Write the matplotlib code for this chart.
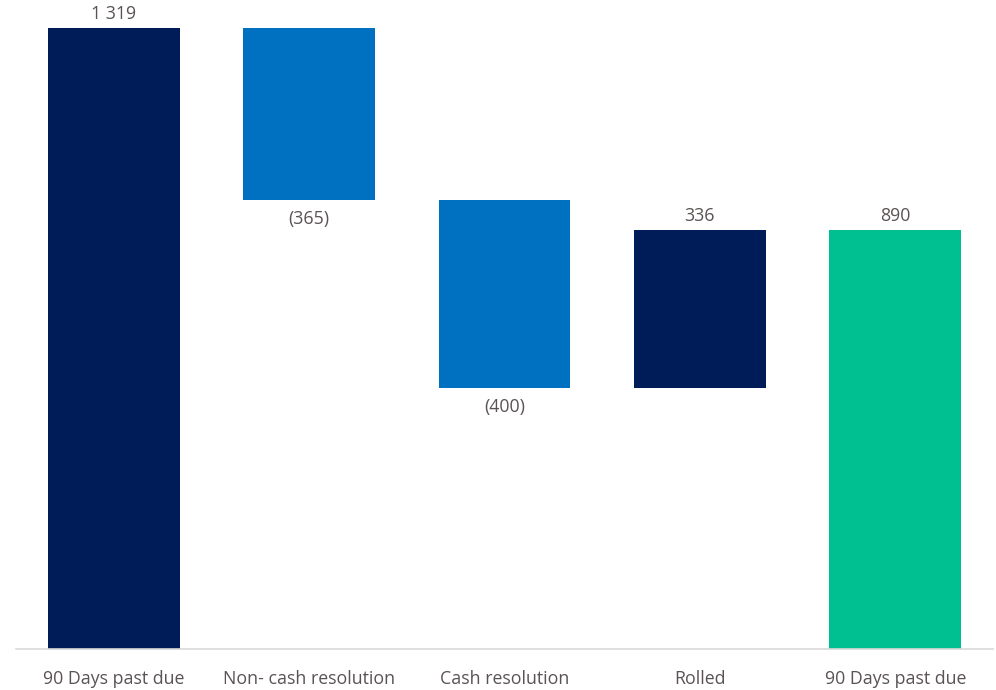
import matplotlib.pyplot as plt

# waterfall: opening balance, movements, closing balance
categories = ["90 Days past due", "Non- cash resolution", "Cash resolution", "Rolled", "90 Days past due"]
values = [1319, -365, -400, 336, 890]
kinds = ["total", "delta", "delta", "delta", "total"]
labels = ["1 319", "(365)", "(400)", "336", "890"]
colors = ["#001c58", "#0070c0", "#0070c0", "#001c58", "#00bf91"]

plt.rcParams['font.family'] = ['Open Sans', 'DejaVu Sans']
txt_color = "#5a5253"

fig = plt.figure(figsize=(9.96, 6.9), dpi=100)
ax = fig.add_axes([0.016, 41 / 690, 0.981, 1 - 41 / 690])

running = 0
bottoms, heights = [], []
for v, k in zip(values, kinds):
    if k == "total":
        bottoms.append(0)
        heights.append(v)
        running = v
    else:
        new = running + v
        bottoms.append(min(running, new))
        heights.append(abs(v))
        running = new

x = range(len(categories))
ax.bar(x, heights, bottom=bottoms, width=0.675, color=colors)

for i, (b, h, v, lab) in enumerate(zip(bottoms, heights, values, labels)):
    if v >= 0:
        ax.text(i, b + h + 10, lab, ha="center", va="bottom", fontsize=12.8, color=txt_color, clip_on=False)
    else:
        ax.text(i, b - 22, lab, ha="center", va="top", fontsize=12.8, color=txt_color, clip_on=False)

ax.set_xlim(-0.5, 4.5)
ax.set_ylim(0, 1378)
ax.set_xticks(list(x))
ax.set_xticklabels(categories, fontsize=12.8, color=txt_color)
ax.tick_params(axis="x", length=0, pad=15)
ax.set_yticks([])
for s in ["top", "right", "left"]:
    ax.spines[s].set_visible(False)
ax.spines["bottom"].set_color("#d9d9d9")
ax.spines["bottom"].set_linewidth(1.2)

fig.savefig("out.png", dpi=100)
